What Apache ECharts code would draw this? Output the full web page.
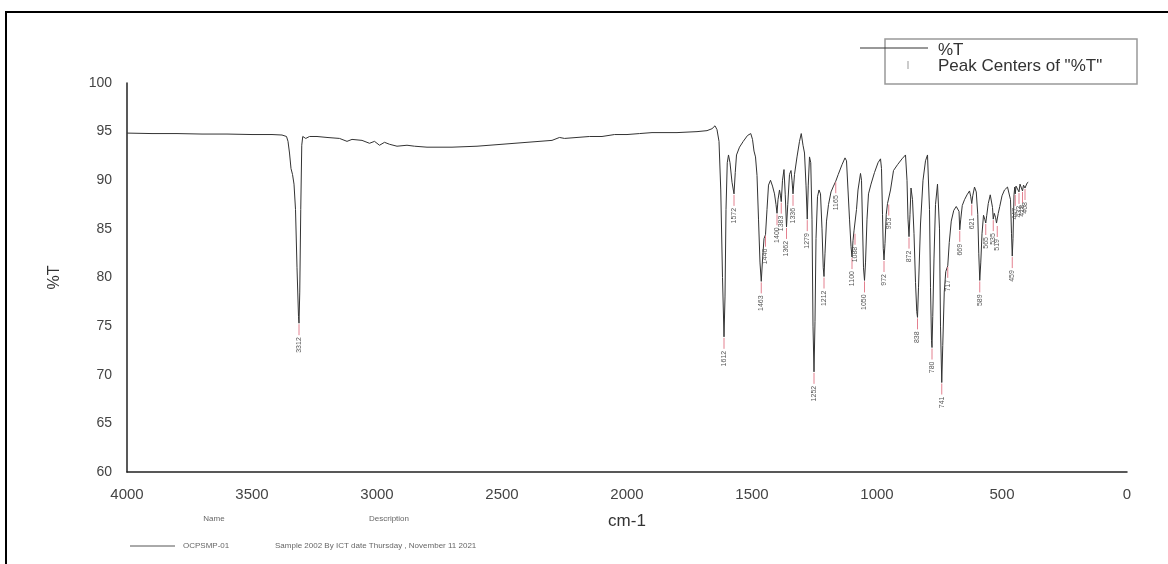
<!DOCTYPE html>
<html>
<head>
<meta charset="utf-8">
<title>%T spectrum</title>
<script src="https://cdn.jsdelivr.net/npm/echarts@6/dist/echarts.min.js"></script>
<style>
    html, body { margin: 0; padding: 0; background: #fff; }
    #irChart { width: 1168px; height: 564px; }
</style>
</head>
<body>
<div id="irChart"></div>
<script>
// spectrum points [wavenumber cm-1, %T]
var spectrum = [
    [4000, 94.85], [3900, 94.8], [3800, 94.8], [3700, 94.75], [3600, 94.75], [3500, 94.7], [3420, 94.7], [3380, 94.65],
    [3362, 94.5], [3356, 94.0], [3350, 92.8], [3344, 91.2], [3338, 90.6], [3332, 89.6], [3326, 87.0], [3320, 81.0],
    [3314, 76.0], [3312, 75.3], [3309, 78.5], [3305, 87.0], [3301, 93.6], [3297, 94.5], [3292, 94.6], [3285, 94.3],
    [3270, 94.5], [3240, 94.5], [3200, 94.4], [3150, 94.3], [3120, 94.0], [3100, 94.2], [3060, 94.1], [3030, 93.8],
    [3010, 94.0], [2990, 93.6], [2970, 93.9], [2950, 93.7], [2920, 93.5], [2880, 93.6], [2850, 93.5], [2800, 93.4],
    [2700, 93.4], [2600, 93.5], [2500, 93.7], [2400, 93.9], [2300, 94.1], [2270, 94.4], [2250, 94.3], [2200, 94.4],
    [2150, 94.5], [2100, 94.5], [2050, 94.7], [2000, 94.7], [1950, 94.8], [1900, 94.9], [1800, 94.9], [1720, 95.0],
    [1680, 95.1], [1660, 95.3], [1648, 95.6], [1640, 95.2], [1632, 94.0], [1625, 89.0], [1618, 80.0], [1612, 73.9],
    [1608, 78.0], [1604, 87.0], [1599, 91.8], [1594, 92.6], [1588, 91.8], [1580, 89.8], [1572, 88.6], [1567, 90.8],
    [1562, 92.6], [1550, 93.4], [1535, 94.0], [1518, 94.6], [1505, 94.8], [1498, 94.2], [1492, 93.0], [1486, 92.4],
    [1480, 90.5], [1474, 86.0], [1468, 81.5], [1463, 79.6], [1458, 81.8], [1452, 84.0], [1446, 84.4], [1440, 87.0],
    [1434, 89.5], [1426, 90.0], [1418, 89.4], [1410, 88.6], [1404, 87.5], [1400, 86.6], [1396, 88.0], [1390, 89.0],
    [1386, 88.4], [1383, 87.8], [1378, 90.0], [1372, 91.1], [1367, 88.5], [1362, 85.2], [1357, 87.5], [1350, 90.6],
    [1344, 91.0], [1340, 90.0], [1336, 88.6], [1330, 90.6], [1320, 92.4], [1310, 94.0], [1303, 94.8], [1296, 93.6],
    [1290, 92.8], [1284, 89.5], [1279, 86.0], [1275, 89.5], [1270, 92.4], [1265, 91.8], [1260, 86.0], [1256, 75.0],
    [1252, 70.3], [1248, 75.5], [1244, 84.0], [1238, 88.3], [1232, 89.0], [1226, 88.6], [1220, 85.0], [1215, 81.0],
    [1212, 80.1], [1208, 82.5], [1202, 85.8], [1194, 87.5], [1184, 88.8], [1174, 89.4], [1165, 89.9], [1155, 90.6],
    [1140, 91.6], [1128, 92.3], [1122, 92.0], [1116, 89.0], [1110, 86.0], [1104, 83.2], [1100, 82.1], [1096, 83.8],
    [1092, 84.8], [1088, 84.6], [1082, 87.0], [1076, 89.0], [1066, 90.7], [1062, 90.0], [1058, 85.5], [1054, 81.0],
    [1050, 79.7], [1046, 81.5], [1040, 86.0], [1034, 88.6], [1024, 89.6], [1010, 90.8], [996, 91.8], [986, 92.2],
    [982, 91.2], [978, 86.5], [975, 83.0], [972, 81.8], [968, 83.5], [963, 86.5], [958, 87.6], [953, 87.6],
    [946, 89.0], [934, 91.0], [918, 91.6], [900, 92.2], [886, 92.6], [880, 90.0], [876, 86.0], [872, 84.2],
    [868, 86.5], [864, 89.2], [858, 88.0], [852, 84.5], [846, 79.5], [841, 76.5], [838, 75.9], [834, 79.0],
    [826, 85.5], [816, 90.0], [806, 92.0], [798, 92.6], [794, 92.4], [790, 87.0], [786, 79.0], [782, 73.5],
    [780, 72.8], [777, 76.0], [772, 82.0], [766, 87.5], [758, 89.6], [754, 89.8], [750, 85.0], [746, 75.0],
    [741, 69.2], [737, 73.0], [731, 78.5], [725, 80.6], [717, 81.2], [711, 83.6], [703, 85.8], [693, 86.9],
    [683, 87.3], [675, 87.5], [672, 86.8], [669, 84.9], [665, 86.0], [659, 87.4], [650, 88.0], [640, 88.5],
    [630, 88.9], [625, 88.3], [621, 87.6], [617, 88.4], [610, 89.3], [603, 88.8], [597, 86.5], [593, 82.5],
    [589, 79.7], [585, 81.5], [580, 84.5], [574, 86.4], [569, 86.0], [565, 85.6], [561, 86.4], [555, 87.6],
    [547, 88.5], [541, 88.7], [538, 87.2], [535, 86.0], [531, 86.6], [526, 86.2], [522, 85.6], [519, 85.4],
    [515, 86.6], [509, 87.3], [500, 88.4], [490, 89.0], [478, 89.3], [470, 89.4], [466, 88.0], [462, 84.5],
    [459, 82.2], [456, 84.0], [452, 88.5], [449, 89.3], [447, 88.6], [444, 89.4], [436, 89.6], [432, 88.8],
    [428, 89.6], [422, 89.7], [418, 88.9], [414, 89.5], [408, 89.2], [400, 89.7], [395, 89.8]
];

// peak centers found on the trace
var peakWn = [3312, 1612, 1572, 1463, 1446, 1400, 1383, 1362, 1336, 1279, 1252, 1212, 1165, 1100, 1088, 1050,
    972, 953, 872, 838, 780, 741, 717, 669, 621, 589, 565, 535, 519, 459, 447, 432, 418, 408];
var peakT = [75.3, 73.9, 88.6, 79.6, 84.4, 86.6, 87.8, 85.2, 88.6, 86.0, 70.3, 80.1, 89.9, 82.1, 84.6, 79.7,
    81.8, 87.6, 84.2, 75.9, 72.8, 69.2, 81.2, 84.9, 87.6, 79.7, 85.6, 86.0, 85.4, 82.2, 88.6, 88.8, 88.9, 89.2];

var xTicks = [4000, 3500, 3000, 2500, 2000, 1500, 1000, 500, 0];
var yTicks = [60, 65, 70, 75, 80, 85, 90, 95, 100];

var seriesName = '%T';
var peakName = 'Peak Centers of "%T"';
var fileName = 'OCPSMP-01';
var fileDesc = 'Sample 2002 By ICT date Thursday , November 11 2021';

var FONT = '"Liberation Sans", Arial, sans-serif';

(function () {
    var peakData = [];
    for (var i = 0; i < peakWn.length; i++) {
        peakData.push([peakWn[i], peakT[i]]);
    }

    function drawPeak(params, api) {
        var pt = api.coord([api.value(0), api.value(1)]);
        return {
            type: 'group',
            children: [
                {
                    type: 'line',
                    shape: { x1: pt[0], y1: pt[1] + 1, x2: pt[0], y2: pt[1] + 12 },
                    style: { stroke: '#e3808f', lineWidth: 1 }
                },
                {
                    type: 'text',
                    x: pt[0],
                    y: pt[1] + 14,
                    rotation: Math.PI / 2,
                    style: {
                        text: String(api.value(0)),
                        align: 'right',
                        verticalAlign: 'middle',
                        fill: '#555',
                        font: '7px ' + FONT
                    }
                }
            ]
        };
    }

    var chart = echarts.init(document.getElementById('irChart'));

    var option = {
        backgroundColor: '#fff',
        animation: false,
        grid: { left: 127, right: 41, top: 83, bottom: 92, outerBoundsMode: 'none' },
        xAxis: {
            type: 'value',
            inverse: true,
            min: xTicks[xTicks.length - 1],
            max: xTicks[0],
            interval: 500,
            name: 'cm-1',
            nameLocation: 'middle',
            nameGap: 41,
            nameTextStyle: { fontSize: 17, color: '#333', fontFamily: FONT },
            axisLine: { onZero: false, lineStyle: { color: '#222', width: 1.5 } },
            axisTick: { show: false },
            splitLine: { show: false },
            axisLabel: {
                margin: 15, fontSize: 15, color: '#444', fontFamily: FONT,
                formatter: function (v) { return String(v); }
            }
        },
        yAxis: {
            type: 'value',
            min: yTicks[0],
            max: yTicks[yTicks.length - 1],
            interval: 5,
            name: '%T',
            nameLocation: 'middle',
            nameGap: 64,
            nameTextStyle: { fontSize: 16, color: '#333', fontFamily: FONT },
            axisLine: { show: true, onZero: false, lineStyle: { color: '#222', width: 1.5 } },
            axisTick: { show: false },
            splitLine: { show: false },
            axisLabel: {
                margin: 15, fontSize: 14, color: '#444', fontFamily: FONT,
                formatter: function (v) { return String(v); }
            }
        },
        series: [
            {
                name: seriesName,
                type: 'line',
                data: spectrum,
                symbol: 'none',
                lineStyle: { color: '#333', width: 1 },
                z: 3
            },
            {
                name: peakName,
                type: 'custom',
                data: peakData,
                renderItem: drawPeak,
                encode: { x: 0, y: 1 },
                z: 4
            }
        ],
        graphic: [
            // outer frame
            { type: 'rect', shape: { x: 6, y: 12, width: 1180, height: 580 }, style: { fill: null, stroke: '#000', lineWidth: 2 } },
            // legend box
            { type: 'rect', shape: { x: 885, y: 39, width: 252, height: 45 }, style: { fill: '#fff', stroke: '#999', lineWidth: 1.5 }, z: 10 },
            { type: 'line', shape: { x1: 860, y1: 48, x2: 928, y2: 48 }, style: { stroke: '#333', lineWidth: 1 }, z: 11 },
            { type: 'text', x: 938, y: 50, style: { text: seriesName, font: '17px ' + FONT, fill: '#333', verticalAlign: 'middle' }, z: 11 },
            { type: 'line', shape: { x1: 908, y1: 61, x2: 908, y2: 69 }, style: { stroke: '#999', lineWidth: 1 }, z: 11 },
            { type: 'text', x: 938, y: 66, style: { text: peakName, font: '17px ' + FONT, fill: '#333', verticalAlign: 'middle' }, z: 11 },
            // file info below the plot
            { type: 'text', x: 214, y: 519, style: { text: 'Name', font: '8px ' + FONT, fill: '#666', align: 'center', verticalAlign: 'middle' } },
            { type: 'text', x: 389, y: 519, style: { text: 'Description', font: '8px ' + FONT, fill: '#666', align: 'center', verticalAlign: 'middle' } },
            { type: 'line', shape: { x1: 130, y1: 546, x2: 175, y2: 546 }, style: { stroke: '#555', lineWidth: 1 } },
            { type: 'text', x: 183, y: 546, style: { text: fileName, font: '8px ' + FONT, fill: '#666', verticalAlign: 'middle' } },
            { type: 'text', x: 275, y: 546, style: { text: fileDesc, font: '8px ' + FONT, fill: '#666', verticalAlign: 'middle' } }
        ]
    };

    chart.setOption(option);
})();
</script>
</body>
</html>
